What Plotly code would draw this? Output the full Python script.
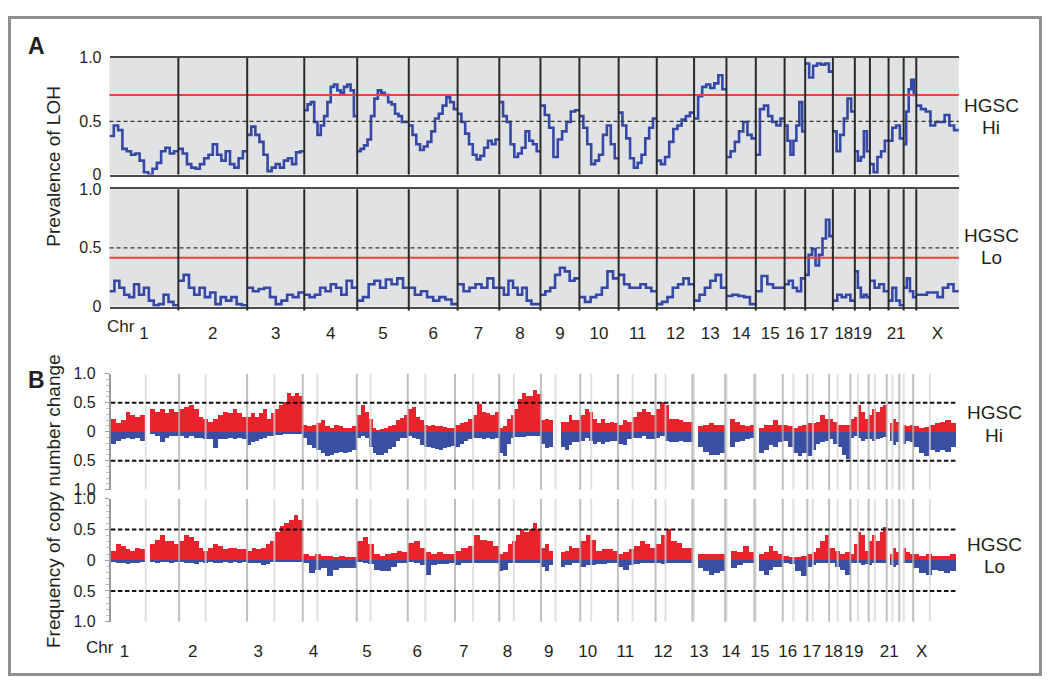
import plotly.graph_objects as go

# ---------------- data ----------------
CHR_LABELS = ["1", "2", "3", "4", "5", "6", "7", "8", "9", "10", "11", "12",
              "13", "14", "15", "16", "17", "18", "19", "", "21", "", "X"]

# chromosome widths (Mb-like units) as drawn in panel A and panel B
CHR_LEN_A = [251, 251, 208, 193, 188, 178, 152, 150, 142, 143, 139, 136,
             118, 107, 105, 75, 101, 80, 55, 68, 55, 46, 155]
CHR_LEN_B = [250, 249, 204, 198, 187, 173, 162, 153, 144, 138, 138, 135,
             120, 107, 104, 90, 80, 78, 67, 66, 46, 51, 157]
# centromere position as a fraction of each chromosome (panel B light lines)
CEN_FRAC_B = [0.51, 0.39, 0.49, 0.27, 0.27, 0.37, 0.41, 0.35, 0.37, 0.29, 0.39, 0.27,
              0.05, 0.05, 0.05, 0.43, 0.26, 0.40, 0.41, 0.34, 0.46, 0.32, 0.39]

# Panel A: prevalence of LOH along each chromosome
LOH_HI = [
    [0.33, 0.42, 0.38, 0.22, 0.20, 0.17, 0.18, 0.12, 0.02, 0.00, 0.05, 0.10, 0.20, 0.23, 0.18, 0.20],
    [0.22, 0.18, 0.09, 0.06, 0.05, 0.09, 0.14, 0.17, 0.26, 0.17, 0.12, 0.20, 0.09, 0.06, 0.14, 0.20],
    [0.34, 0.41, 0.34, 0.28, 0.17, 0.03, 0.06, 0.09, 0.06, 0.12, 0.14, 0.09, 0.19, 0.20],
    [0.55, 0.60, 0.62, 0.45, 0.34, 0.42, 0.50, 0.62, 0.75, 0.77, 0.72, 0.70, 0.75, 0.77, 0.72, 0.50],
    [0.20, 0.22, 0.25, 0.30, 0.50, 0.65, 0.72, 0.70, 0.68, 0.62, 0.60, 0.52, 0.50, 0.45, 0.45],
    [0.42, 0.34, 0.26, 0.21, 0.24, 0.28, 0.37, 0.48, 0.52, 0.59, 0.66, 0.62, 0.56],
    [0.52, 0.45, 0.35, 0.26, 0.17, 0.13, 0.16, 0.23, 0.29, 0.26, 0.30],
    [0.62, 0.50, 0.45, 0.26, 0.15, 0.18, 0.23, 0.37, 0.29, 0.26, 0.20],
    [0.59, 0.51, 0.40, 0.15, 0.30, 0.37, 0.45, 0.54, 0.55],
    [0.50, 0.40, 0.26, 0.09, 0.12, 0.17, 0.34, 0.42, 0.26, 0.14],
    [0.53, 0.42, 0.31, 0.14, 0.06, 0.10, 0.17, 0.31, 0.40, 0.48],
    [0.12, 0.09, 0.15, 0.28, 0.39, 0.42, 0.47, 0.50, 0.53],
    [0.48, 0.67, 0.75, 0.77, 0.74, 0.78, 0.85, 0.73],
    [0.15, 0.20, 0.28, 0.37, 0.45, 0.34, 0.31],
    [0.17, 0.56, 0.59, 0.50, 0.45, 0.42, 0.48],
    [0.42, 0.29, 0.17, 0.29, 0.42, 0.62, 0.37],
    [0.95, 0.83, 0.93, 0.95, 0.94, 0.95, 0.88],
    [0.37, 0.20, 0.34, 0.48, 0.65, 0.54],
    [0.20, 0.12, 0.15, 0.37, 0.20],
    [0.09, 0.02, 0.15, 0.20, 0.29],
    [0.29, 0.40, 0.42, 0.31],
    [0.26, 0.54, 0.73, 0.81, 0.68],
    [0.59, 0.56, 0.54, 0.42, 0.45, 0.45, 0.51, 0.42, 0.38],
]
LOH_LO = [
    [0.13, 0.22, 0.16, 0.10, 0.08, 0.19, 0.10, 0.16, 0.05, 0.01, 0.02, 0.10, 0.04, 0.01],
    [0.22, 0.27, 0.16, 0.10, 0.16, 0.08, 0.12, 0.02, 0.08, 0.05, 0.08, 0.02, 0.01],
    [0.16, 0.13, 0.15, 0.16, 0.08, 0.02, 0.05, 0.10, 0.08, 0.12],
    [0.10, 0.08, 0.10, 0.16, 0.13, 0.19, 0.16, 0.10, 0.22, 0.16],
    [0.05, 0.08, 0.19, 0.22, 0.16, 0.23, 0.19, 0.24, 0.16],
    [0.16, 0.10, 0.13, 0.08, 0.05, 0.08, 0.06, 0.02],
    [0.19, 0.13, 0.16, 0.19, 0.16, 0.24, 0.16],
    [0.16, 0.10, 0.22, 0.16, 0.10, 0.16, 0.05, 0.02, 0.02],
    [0.10, 0.13, 0.16, 0.27, 0.33, 0.30, 0.22, 0.24],
    [0.08, 0.04, 0.08, 0.10, 0.16, 0.30, 0.24],
    [0.27, 0.19, 0.16, 0.16, 0.19, 0.16, 0.13],
    [0.02, 0.04, 0.08, 0.16, 0.19, 0.24, 0.19],
    [0.05, 0.10, 0.16, 0.22, 0.27, 0.16],
    [0.09, 0.10, 0.09, 0.08, 0.02],
    [0.13, 0.26, 0.19, 0.16, 0.16],
    [0.19, 0.22, 0.16, 0.13, 0.24],
    [0.27, 0.44, 0.49, 0.35, 0.44, 0.58, 0.74, 0.60],
    [0.05, 0.10, 0.08, 0.10, 0.05],
    [0.30, 0.16, 0.08, 0.10, 0.08],
    [0.22, 0.16, 0.19, 0.13],
    [0.05, 0.16, 0.05, 0.01],
    [0.16, 0.24, 0.13, 0.08],
    [0.10, 0.10, 0.12, 0.12, 0.08, 0.16, 0.19, 0.13],
]
LOH_HI_RED, LOH_HI_DASH = 0.68, 0.455
LOH_LO_RED, LOH_LO_DASH = 0.415, 0.5

# Panel B: frequency of copy number gain / loss (None = no probes)
GAIN_HI = [
    [0.23, 0.15, 0.20, 0.34, 0.29, 0.26, 0.29, None, 0.40, 0.34, 0.40, 0.32, 0.40, 0.34],
    [0.40, 0.43, 0.46, 0.40, 0.26, 0.23, 0.18, 0.23, 0.29, 0.34, 0.32, 0.40, 0.32, 0.26],
    [0.26, 0.32, 0.26, 0.32, 0.40, 0.23, 0.32, 0.40, 0.46, 0.51, 0.68, 0.62, 0.68, 0.62],
    [0.12, 0.10, 0.12, 0.15, 0.20, 0.10, 0.07, 0.12, 0.10, 0.07, 0.07, 0.10],
    [0.29, 0.46, 0.34, 0.23, 0.07, 0.04, 0.05, 0.07, 0.10, 0.12, 0.20, 0.25, 0.29],
    [0.40, 0.43, 0.26, 0.20, 0.12, 0.10, 0.12, 0.10, 0.10, 0.08, 0.07, 0.07],
    [0.12, 0.15, 0.18, 0.23, 0.29, 0.48, 0.34, 0.32, 0.30, 0.34],
    [0.07, 0.10, 0.23, 0.29, 0.40, 0.57, 0.68, 0.62, 0.62, 0.73, 0.65],
    [0.20, 0.23, 0.20, None, None, 0.18, 0.18, 0.29, 0.20, 0.20],
    [0.29, 0.40, 0.34, 0.23, 0.15, 0.23, 0.15, 0.18, 0.15],
    [0.12, 0.20, 0.18, 0.26, 0.34, 0.40, 0.34, 0.29],
    [0.40, 0.51, 0.46, 0.23, 0.23, 0.20, 0.18, 0.18],
    [None, 0.10, 0.12, 0.15, 0.12, 0.12],
    [None, 0.23, 0.18, 0.12, 0.10, 0.12],
    [None, 0.07, 0.12, 0.12, 0.20, 0.12],
    [0.12, 0.10, 0.07, 0.10, 0.12],
    [0.15, 0.15, 0.18, 0.29, 0.23],
    [0.23, 0.18, 0.12, 0.12, 0.12],
    [0.23, 0.26, 0.46, 0.34, 0.23],
    [0.29, 0.40, 0.34, 0.43, 0.46],
    [None, 0.15, 0.23, 0.18],
    [None, 0.12, 0.10, 0.12],
    [0.10, 0.07, 0.08, 0.12, 0.15, 0.18, 0.20, 0.15],
]
LOSS_HI = [
    [0.20, 0.15, 0.12, 0.10, 0.12, 0.10, 0.15, None, 0.04, 0.07, 0.18, 0.10, 0.07, 0.07],
    [0.07, 0.10, 0.07, 0.10, 0.10, 0.12, 0.12, 0.28, 0.12, 0.12, 0.10, 0.12, 0.10, 0.12],
    [0.23, 0.18, 0.15, 0.12, 0.10, 0.07, 0.07, 0.06, 0.05, 0.04, 0.04, 0.03, 0.04, 0.03],
    [0.10, 0.22, 0.28, 0.31, 0.37, 0.42, 0.40, 0.37, 0.34, 0.37, 0.35, 0.31],
    [0.10, 0.07, 0.10, 0.26, 0.37, 0.39, 0.40, 0.37, 0.30, 0.26, 0.15, 0.10, 0.10],
    [0.07, 0.10, 0.12, 0.23, 0.26, 0.26, 0.28, 0.30, 0.31, 0.28, 0.26, 0.24],
    [0.26, 0.20, 0.15, 0.12, 0.10, 0.10, 0.12, 0.10, 0.12, 0.10],
    [0.37, 0.42, 0.20, 0.10, 0.09, 0.09, 0.09, 0.07, 0.07, 0.07, 0.07],
    [0.20, 0.28, 0.26, None, None, 0.26, 0.31, 0.23, 0.18, 0.18],
    [0.15, 0.10, 0.15, 0.20, 0.18, 0.20, 0.18, 0.15, 0.15],
    [0.20, 0.23, 0.12, 0.10, 0.10, 0.07, 0.12, 0.12],
    [0.10, 0.07, 0.15, 0.18, 0.18, 0.15, 0.18, 0.18],
    [None, 0.26, 0.34, 0.39, 0.39, 0.37],
    [None, 0.26, 0.18, 0.15, 0.12, 0.10],
    [None, 0.37, 0.31, 0.23, 0.26, 0.18],
    [0.15, 0.26, 0.37, 0.42, 0.37],
    [0.42, 0.31, 0.20, 0.18, 0.15],
    [0.12, 0.20, 0.26, 0.39, 0.47],
    [0.10, 0.07, 0.10, 0.15, 0.12],
    [0.12, 0.15, 0.12, 0.10, 0.09],
    [None, 0.15, 0.23, 0.18],
    [None, 0.20, 0.15, 0.18],
    [0.26, 0.37, 0.42, 0.31, 0.34, 0.31, 0.34, 0.26],
]
GAIN_LO = [
    [0.15, 0.26, 0.23, 0.18, 0.15, 0.20, 0.18, None, 0.26, 0.33, 0.41, 0.31, 0.31, 0.26],
    [0.31, 0.41, 0.38, 0.31, 0.20, 0.15, 0.20, 0.26, 0.23, 0.18, 0.20, 0.20, 0.18, 0.18],
    [0.15, 0.20, 0.18, 0.20, 0.26, 0.31, 0.46, 0.56, 0.61, 0.66, 0.74, 0.66],
    [0.10, 0.08, 0.10, 0.08, 0.08, 0.05, 0.08, 0.06, 0.06],
    [0.31, 0.38, 0.26, 0.10, 0.08, 0.10, 0.12, 0.15, 0.13],
    [0.28, 0.31, 0.20, 0.13, 0.10, 0.13, 0.10, 0.10],
    [0.15, 0.20, 0.23, 0.41, 0.33, 0.31, 0.23],
    [0.10, 0.13, 0.26, 0.31, 0.41, 0.51, 0.46, 0.51, 0.61, 0.51],
    [0.20, 0.26, 0.15, None, None, 0.13, 0.15, 0.23, 0.20, 0.20],
    [0.31, 0.41, 0.33, 0.15, 0.18, 0.18, 0.15],
    [0.10, 0.13, 0.18, 0.23, 0.31, 0.26, 0.20],
    [0.26, 0.41, 0.51, 0.31, 0.28, 0.20, 0.20],
    [None, 0.10, 0.10, 0.11, 0.10, 0.10],
    [None, 0.15, 0.13, 0.23, 0.13],
    [None, 0.10, 0.13, 0.23, 0.15, 0.10],
    [0.08, 0.06, 0.06, 0.08],
    [0.10, 0.13, 0.20, 0.31, 0.41],
    [0.20, 0.15, 0.10, 0.13],
    [0.10, 0.26, 0.46, 0.41, 0.15],
    [0.31, 0.41, 0.31, 0.46, 0.54],
    [None, 0.10, 0.20, 0.13],
    [None, 0.20, 0.13, 0.10],
    [0.10, 0.08, 0.10, 0.08, 0.08, 0.08, 0.10],
]
LOSS_LO = [
    [0.03, 0.05, 0.04, 0.06, 0.04, 0.05, 0.03, None, 0.02, 0.04, 0.03, 0.03, 0.04, 0.03],
    [0.03, 0.05, 0.04, 0.06, 0.03, 0.04, 0.03, 0.05, 0.04, 0.03, 0.04, 0.03, 0.04, 0.03],
    [0.04, 0.05, 0.04, 0.08, 0.06, 0.03, 0.03, 0.02, 0.02, 0.02, 0.02, 0.02],
    [0.05, 0.20, 0.15, 0.12, 0.26, 0.15, 0.13, 0.13, 0.13],
    [0.03, 0.04, 0.06, 0.15, 0.18, 0.18, 0.10, 0.05, 0.05],
    [0.03, 0.05, 0.08, 0.23, 0.08, 0.06, 0.06, 0.05],
    [0.08, 0.05, 0.05, 0.05, 0.04, 0.04, 0.04],
    [0.18, 0.15, 0.05, 0.04, 0.04, 0.04, 0.05, 0.05, 0.05, 0.05],
    [0.10, 0.18, 0.08, None, None, 0.10, 0.08, 0.08, 0.05, 0.05],
    [0.10, 0.08, 0.08, 0.06, 0.06, 0.05, 0.05],
    [0.10, 0.15, 0.08, 0.06, 0.05, 0.05, 0.05],
    [0.05, 0.06, 0.05, 0.05, 0.05, 0.05, 0.05],
    [None, 0.13, 0.18, 0.23, 0.20, 0.18],
    [None, 0.13, 0.08, 0.05, 0.05],
    [None, 0.18, 0.23, 0.15, 0.10, 0.10],
    [0.05, 0.06, 0.18, 0.26],
    [0.10, 0.08, 0.05, 0.04, 0.04],
    [0.05, 0.10, 0.15, 0.23],
    [0.04, 0.05, 0.05, 0.08, 0.06],
    [0.08, 0.05, 0.05, 0.04, 0.04],
    [None, 0.08, 0.10, 0.08],
    [None, 0.05, 0.04, 0.04],
    [0.13, 0.20, 0.23, 0.15, 0.18, 0.20, 0.18],
]
CN_DASH = 0.5

# ---------------- helpers ----------------
# The page has the browser's default 8px body margin, so the figure is made
# 16px smaller than the window and positions are given in window pixels.
OFF = 8
FW, FH = 1050 - 2 * OFF, 693 - 2 * OFF
FONT = "Liberation Sans, Arial, sans-serif"
TXT = "#231f20"


def px(x):
    return (x - OFF) / FW


def py(y):
    return 1 - (y - OFF) / FH


def starts(lengths):
    out, s = [], 0
    for L in lengths:
        out.append(s)
        s += L
    return out


def step_xy(lengths, series):
    xs, ys = [], []
    for s0, L, vals in zip(starts(lengths), lengths, series):
        n = len(vals)
        for i, v in enumerate(vals):
            xs.append(s0 + L * i / n)
            ys.append(v)
        xs.append(s0 + L)
        ys.append(vals[-1])
        xs.append(None)
        ys.append(None)
    return xs, ys


def bar_xy(lengths, series, sign):
    xs, ys, ws = [], [], []
    for s0, L, vals in zip(starts(lengths), lengths, series):
        n = len(vals)
        w = L / n
        for i, v in enumerate(vals):
            if v is None:
                continue
            xs.append(s0 + w * (i + 0.5))
            ys.append(sign * v)
            ws.append(w)
    return xs, ys, ws


TOT_A = sum(CHR_LEN_A)
TOT_B = sum(CHR_LEN_B)
ST_A = starts(CHR_LEN_A)
ST_B = starts(CHR_LEN_B)

fig = go.Figure()

LINE_BLUE = "#3548a6"
for series, ax in ((LOH_HI, ""), (LOH_LO, "2")):
    x, y = step_xy(CHR_LEN_A, series)
    fig.add_trace(go.Scatter(x=x, y=y, mode="lines", line=dict(color=LINE_BLUE, width=2.6, shape="hv"),
                             xaxis="x" + ax, yaxis="y" + ax, hoverinfo="skip"))

RED, BLUE = "#e8232b", "#3a4ea3"
for series, sign, col, ax in ((GAIN_HI, 1, RED, "3"), (LOSS_HI, -1, BLUE, "3"),
                              (GAIN_LO, 1, RED, "4"), (LOSS_LO, -1, BLUE, "4")):
    x, y, w = bar_xy(CHR_LEN_B, series, sign)
    fig.add_trace(go.Bar(x=x, y=y, width=w, marker=dict(color=col, line=dict(width=0)),
                         xaxis="x" + ax, yaxis="y" + ax, hoverinfo="skip"))

shapes = []
# Panel A backgrounds, thresholds, boundaries
for ax, red, dash in (("", LOH_HI_RED, LOH_HI_DASH), ("2", LOH_LO_RED, LOH_LO_DASH)):
    yr = "y" + ax
    xr = "x" + ax
    shapes.append(dict(type="rect", xref=xr + " domain", yref=yr + " domain", x0=0, x1=1, y0=0, y1=1,
                       fillcolor="#e1e2e4", line=dict(width=0), layer="below"))
    shapes.append(dict(type="line", xref=xr + " domain", yref=yr, x0=0, x1=1, y0=dash, y1=dash,
                       line=dict(color="#333333", width=1.3, dash="4px,3px"), layer="above"))
    shapes.append(dict(type="line", xref=xr + " domain", yref=yr, x0=0, x1=1, y0=red, y1=red,
                       line=dict(color="#ef4138", width=2), layer="above"))
    ybot = -0.035 if ax == "2" else 0
    for s in ST_A[1:]:
        shapes.append(dict(type="line", xref=xr, yref=yr + " domain", x0=s, x1=s, y0=ybot, y1=1,
                           line=dict(color="#2a2a2a", width=2), layer="above"))

# Panel B gray guide lines and dashed thresholds
for ax in ("3", "4"):
    yr = "y" + ax
    xr = "x" + ax
    for s0, L, cf in zip(ST_B, CHR_LEN_B, CEN_FRAC_B):
        c = s0 + cf * L
        shapes.append(dict(type="line", xref=xr, yref=yr + " domain", x0=c, x1=c, y0=0, y1=1,
                           line=dict(color="rgba(215,215,215,0.75)", width=2), layer="above"))
    for s in ST_B[1:]:
        shapes.append(dict(type="line", xref=xr, yref=yr + " domain", x0=s, x1=s, y0=0, y1=1,
                           line=dict(color="rgba(175,175,175,0.8)", width=2), layer="above"))
    for v in (CN_DASH, -CN_DASH):
        shapes.append(dict(type="line", xref=xr + " domain", yref=yr, x0=0, x1=1, y0=v, y1=v,
                           line=dict(color="#111111", width=2, dash="4.5px,2.5px"), layer="above"))

# outer frame (as close to the window edge as the figure allows)
shapes.append(dict(type="rect", xref="paper", yref="paper", x0=px(9.5), x1=px(1040.5), y0=py(683.5), y1=py(9.5),
                   line=dict(color="#8f8f8f", width=3), fillcolor="rgba(0,0,0,0)"))

mid_A = [s + L / 2 for s, L in zip(ST_A, CHR_LEN_A)]
lab_B = [s + 0.2 * L for s, L in zip(ST_B, CHR_LEN_B)]

tickfont = dict(family=FONT, size=16, color=TXT)
xfont = dict(family=FONT, size=17, color=TXT)
domA = [px(109.5), px(958.8)]
domB = [px(110.9), px(956)]

common_x = dict(showgrid=False, zeroline=False, fixedrange=True)
layout_axes = dict(
    xaxis=dict(domain=domA, range=[0, TOT_A], anchor="y", showticklabels=False, ticks="",
               showline=True, mirror=True, linecolor="#4a4a4a", linewidth=2, **common_x),
    xaxis2=dict(domain=domA, range=[0, TOT_A], anchor="y2", tickmode="array", tickvals=mid_A,
                ticktext=CHR_LABELS, ticks="", tickfont=xfont, tickangle=0, ticklabelstandoff=10,
                showline=True, mirror=True, linecolor="#4a4a4a", linewidth=2, **common_x),
    xaxis3=dict(domain=domB, range=[0, TOT_B], anchor="y3", showticklabels=False, ticks="",
                showline=False, **common_x),
    xaxis4=dict(domain=domB, range=[0, TOT_B], anchor="y4", tickmode="array", tickvals=lab_B,
                ticktext=CHR_LABELS, ticks="", tickfont=xfont, tickangle=0, ticklabelstandoff=17,
                showline=False, **common_x),
    yaxis=dict(domain=[py(170.7), py(50.7)], range=[0, 1], anchor="x", tickmode="array",
               tickvals=[0, LOH_HI_DASH, 1], ticktext=["0", "0.5", "1.0"], tickfont=tickfont,
               ticks="", ticklabelstandoff=7, showgrid=False, zeroline=False, showline=False),
    yaxis2=dict(domain=[py(306), py(185.7)], range=[0, 1], anchor="x2", tickmode="array",
                tickvals=[0, LOH_LO_DASH, 1], ticktext=["0", "0.5", "1.0"], tickfont=tickfont,
                ticks="", ticklabelstandoff=7, showgrid=False, zeroline=False, showline=False),
)
for ax, dom in (("3", [py(494), py(375)]), ("4", [py(629.3), py(503.3)])):
    layout_axes["yaxis" + ax] = dict(
        domain=dom, range=[-1, 1], anchor="x" + ax, tickmode="array",
        tickvals=[-1, -0.5, 0, 0.5, 1], ticktext=["1.0", "0.5", "0", "0.5", "1.0"],
        tickfont=tickfont, ticks="outside", ticklen=4, tickcolor="#a0a0a0", tickwidth=1,
        minor=dict(dtick=0.1, ticks="outside", ticklen=3, tickcolor="#bdbdbd", tickwidth=1),
        ticklabelstandoff=6, showline=True, linecolor="#9a9a9a", linewidth=2,
        showgrid=False, zeroline=False)

ann = []


def txt(x, y, s, size, bold=False, angle=0, xanchor="center"):
    ann.append(dict(x=px(x), y=py(y), xref="paper", yref="paper", text=("<b>%s</b>" % s) if bold else s,
                    showarrow=False, textangle=angle, xanchor=xanchor, yanchor="middle",
                    font=dict(family=FONT, size=size, color=TXT)))


txt(36.5, 38.5, "A", 23, bold=True)
txt(36.5, 381, "B", 23, bold=True)
txt(53.5, 162, "Prevalence of LOH", 19, angle=-90)
txt(53.5, 506, "Frequency of copy number change", 19, angle=-90)
txt(991, 100, "HGSC", 19)
txt(991, 122, "Hi", 19)
txt(991, 233, "HGSC", 19)
txt(991, 256, "Lo", 19)
txt(994, 415, "HGSC", 19)
txt(994, 438, "Hi", 19)
txt(994, 550, "HGSC", 19)
txt(994, 573, "Lo", 19)
txt(120.5, 327, "Chr", 17)
txt(100, 656, "Chr", 17)

fig.update_layout(
    width=FW, height=FH, margin=dict(l=0, r=0, t=0, b=0),
    paper_bgcolor="white", plot_bgcolor="rgba(0,0,0,0)",
    showlegend=False, barmode="overlay", bargap=0,
    shapes=shapes, annotations=ann, **layout_axes)

fig.write_html("out.html")
